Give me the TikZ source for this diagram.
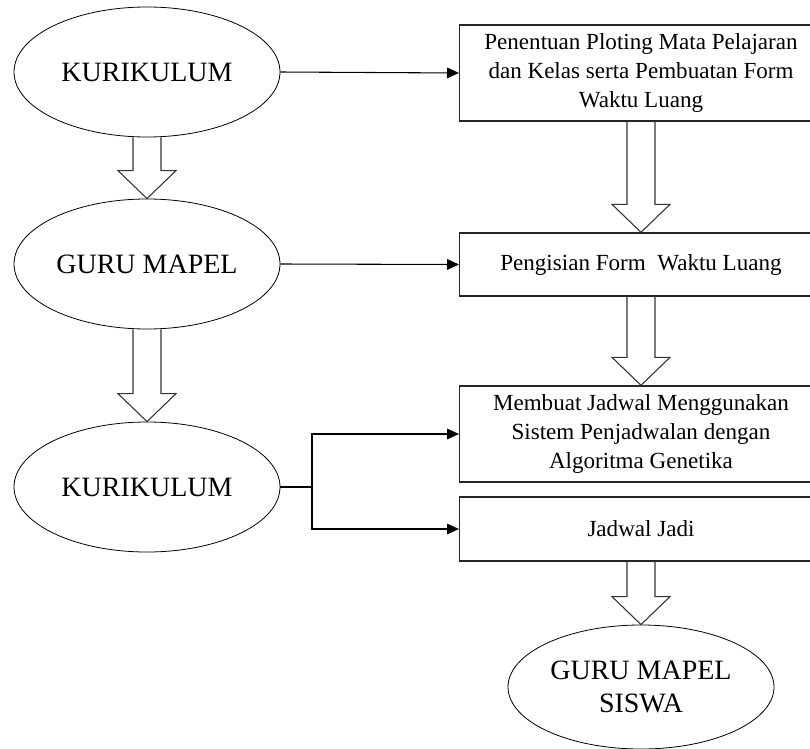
\documentclass[tikz,border=0pt]{standalone}
\usepackage{fontspec}
\setmainfont{Liberation Serif}
\usetikzlibrary{shapes.geometric,arrows.meta,calc}

% hollow block arrow from the bottom of #1 to the top of #2
\newcommand{\fatarrow}[2]{%
  \draw[fat] ($(#1.south)+(-14,0)$) -- ($(#2.north)+(-14,-28)$) -- ($(#2.north)+(-29,-28)$)
    -- (#2.north) -- ($(#2.north)+(29,-28)$) -- ($(#2.north)+(14,-28)$) -- ($(#1.south)+(14,0)$);}

\begin{document}
\begin{tikzpicture}[x=0.75pt, y=-0.75pt,
  ellip/.style={draw=black, ellipse, line width=0.6pt, inner sep=0pt,
    minimum width=199.5pt, minimum height=97.5pt, align=center,
    font=\fontsize{21}{25}\selectfont},
  box/.style={draw=black!85, rectangle, line width=1pt, minimum width=272pt,
    align=center, font=\fontsize{17.3}{21.75}\selectfont},
  arr/.style={line width=0.8pt, -{Triangle[length=9pt, width=8pt]}},
  fat/.style={line width=0.8pt, draw=black!80, line join=miter}]
  \useasboundingbox (0,0) rectangle (810,749);
  \clip (0,0) rectangle (810,749);

  \node[ellip] (kur1) at (147,72) {KURIKULUM};
  \node[ellip] (guru1) at (147,264) {GURU MAPEL};
  \node[ellip] (kur2) at (147,487) {KURIKULUM};
  \node[ellip, minimum height=93pt] (guru2) at (641,687) {GURU MAPEL\\SISWA};

  \node[box, minimum height=72pt] (box1) at (641,73) {Penentuan Ploting Mata Pelajaran\\dan Kelas serta Pembuatan Form\\Waktu Luang};
  \node[box, minimum height=47.25pt] (box2) at (641,264.5) {Pengisian Form\ \ Waktu Luang};
  \node[box, minimum height=72pt] (box3) at (641,434) {Membuat Jadwal Menggunakan\\Sistem Penjadwalan dengan\\Algoritma Genetika};
  \node[box, minimum height=48pt] (box4) at (641,529) {Jadwal Jadi};

  \coordinate (split) at (312,487);

  \draw[arr] (kur1.east) -- (box1.west);
  \draw[arr] (guru1.east) -- (box2.west);
  \draw[line width=0.8pt] (kur2.east) -- (split);
  \draw[arr] (split) |- (box3.west);
  \draw[arr] (split) |- (box4.west);

  \fatarrow{kur1}{guru1}
  \fatarrow{guru1}{kur2}
  \fatarrow{box1}{box2}
  \fatarrow{box2}{box3}
  \fatarrow{box4}{guru2}
\end{tikzpicture}
\end{document}
